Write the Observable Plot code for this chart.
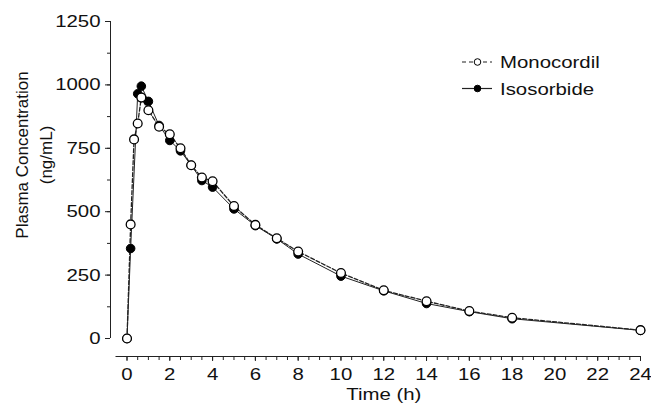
<!DOCTYPE html>
<html><head><meta charset="utf-8">
<script src="https://cdn.jsdelivr.net/npm/d3@7"></script>
<script src="https://cdn.jsdelivr.net/npm/@observablehq/plot@0.6"></script>
<style>
html,body{margin:0;padding:0;background:#fff;}
#chart{position:relative;width:651px;height:411px;}
#legend{position:absolute;left:0;top:0;pointer-events:none;}
</style></head><body><div id="chart"></div>
<script>
// ---- data ----
const seriesNames = ["Monocordil", "Isosorbide"];
const monoTime = [0, 0.17, 0.33, 0.5, 0.67, 1, 1.5, 2, 2.5, 3, 3.5, 4, 5, 6, 7, 8, 10, 12, 14, 16, 18, 24];
const monoConc = [0, 450, 785, 848, 950, 900, 835, 805, 750, 683, 635, 620, 522, 448, 395, 343, 258, 190, 147, 108, 82, 33];
const isoTime  = [0, 0.17, 0.5, 0.67, 1, 1.5, 2, 2.5, 3, 3.5, 4, 5, 6, 7, 8, 10, 12, 14, 16, 18, 24];
const isoConc  = [0, 355, 965, 995, 935, 840, 781, 740, 683, 623, 597, 511, 445, 393, 333, 246, 188, 138, 106, 78, 32];
const xMajorTicks = [0, 2, 4, 6, 8, 10, 12, 14, 16, 18, 20, 22, 24];
const xMinorTicks = d3.range(0, 24.01, 0.5);
const yMajorTicks = [0, 250, 500, 750, 1000, 1250];
const yMinorTicks = d3.range(0, 1250.1, 125);
const xLabel = "Time (h)";
const yLabelLines = ["Plasma Concentration", "(ng/mL)"];

const FONT = "'Liberation Sans', Arial, Helvetica, sans-serif";
const STRETCH = 1.2;
const AX = "#222";

const mono = monoTime.map((t, i) => ({t, c: monoConc[i]}));
const iso = isoTime.map((t, i) => ({t, c: isoConc[i]}));

const plot = Plot.plot({
  width: 651, height: 411,
  marginLeft: 126.5, marginRight: 11, marginTop: 21, marginBottom: 73,
  x: {domain: [0, 24]},
  y: {domain: [0, 1250]},
  style: {fontFamily: FONT, fontSize: "17px", color: "#111", background: "#fff", overflow: "visible"},
  marks: [
    Plot.ruleY([0], {dy: 18, insetLeft: -11, stroke: AX, strokeWidth: 1}),
    Plot.ruleX([0], {dx: -16.5, stroke: AX, strokeWidth: 1}),
    Plot.axisX(xMinorTicks, {tickSize: 4, tickFormat: () => "", dy: 18, label: null, stroke: AX}),
    Plot.axisX(xMajorTicks, {tickSize: 5, tickPadding: 6, tickFormat: d => String(d), dy: 18, label: null, stroke: AX, fill: "#111"}),
    Plot.axisY(yMinorTicks, {tickSize: 3, tickFormat: () => "", dx: -16.5, label: null, stroke: AX}),
    Plot.axisY(yMajorTicks, {tickSize: 5, tickPadding: 5, tickFormat: d => String(d), dx: -16.5, label: null, stroke: AX, fill: "#111"}),
    Plot.text([xLabel], {frameAnchor: "bottom", dy: 61, fill: "#111"}),
    Plot.line(iso, {x: "t", y: "c", stroke: "#222", strokeWidth: 1}),
    Plot.line(mono, {x: "t", y: "c", stroke: "#222", strokeWidth: 1.3, strokeDasharray: "4,2"}),
    Plot.dot(iso, {x: "t", y: "c", r: 4.3, fill: "#000", stroke: "#000", strokeWidth: 1}),
    Plot.dot(mono, {x: "t", y: "c", r: 4.4, fill: "#fff", stroke: "#000", strokeWidth: 1.3})
  ]
});
const chart = document.getElementById("chart");
chart.append(plot);

// horizontal stretch of the lettering, as in the reference
plot.querySelectorAll("text").forEach(el => {
  const tr = el.getAttribute("transform");
  if (tr && /translate\([^)]*\)/.test(tr)) {
    el.setAttribute("transform", tr.replace(/(translate\([^)]*\))/, `$1 scale(${STRETCH},1)`));
  } else {
    const x = +el.getAttribute("x") || 0, y = +el.getAttribute("y") || 0;
    el.setAttribute("x", 0); el.setAttribute("y", 0);
    el.setAttribute("transform", `translate(${x},${y}) scale(${STRETCH},1)` + (tr ? " " + tr : ""));
  }
});

// overlay: y-axis title (pure rotation) and legend
const ov = d3.select(chart).append("svg").attr("id", "legend").attr("width", 651).attr("height", 411);
yLabelLines.forEach((s, i) => {
  ov.append("text")
    .attr("transform", `translate(${i === 0 ? 28 : 52},155) rotate(-90)`)
    .attr("font-family", FONT).attr("font-size", 17).attr("fill", "#111")
    .attr("text-anchor", "middle").text(s);
});

const rows = [
  {name: seriesNames[0], y: 62, dash: "4,3", fill: "#fff"},
  {name: seriesNames[1], y: 88.5, dash: null, fill: "#000"}
];
rows.forEach(r => {
  ov.append("line").attr("x1", 462).attr("x2", 492).attr("y1", r.y).attr("y2", r.y)
    .attr("stroke", "#222").attr("stroke-width", 1.2).attr("stroke-dasharray", r.dash);
  ov.append("circle").attr("cx", 477.5).attr("cy", r.y).attr("r", 3.3)
    .attr("fill", r.fill).attr("stroke", "#000").attr("stroke-width", 1);
  ov.append("text").attr("transform", `translate(500,${r.y + 6}) scale(${STRETCH},1)`)
    .attr("font-family", FONT).attr("font-size", 17).attr("fill", "#111").text(r.name);
});
</script></body></html>
